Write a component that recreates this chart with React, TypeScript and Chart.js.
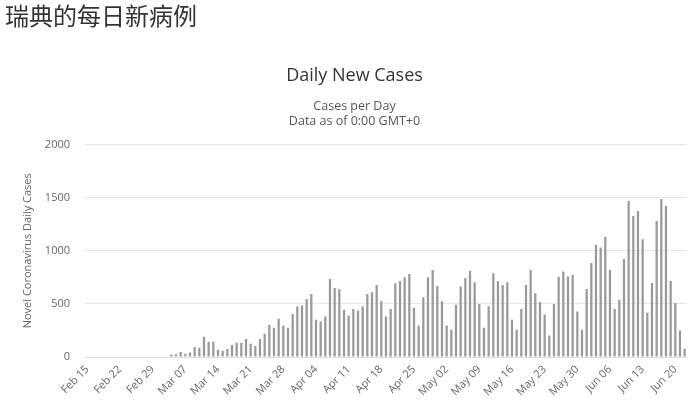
import React, { useEffect, useRef } from "react";
import { Chart, registerables } from "chart.js";

Chart.register(...registerables);

const MONTHS = ["Jan", "Feb", "Mar", "Apr", "May", "Jun", "Jul", "Aug", "Sep", "Oct", "Nov", "Dec"];

// first day shown: Feb 15 2020, 129 daily categories up to Jun 22
const startDate = { year: 2020, month: 1, day: 15 };
const dayCount = 129;

const categories: string[] = (() => {
  const out: string[] = [];
  const d = new Date(Date.UTC(startDate.year, startDate.month, startDate.day));
  for (let i = 0; i < dayCount; i++) {
    out.push(MONTHS[d.getUTCMonth()] + " " + String(d.getUTCDate()).padStart(2, "0"));
    d.setUTCDate(d.getUTCDate() + 1);
  }
  return out;
})();

const tickLabels = [
  "Feb 15", "Feb 22", "Feb 29", "Mar 07", "Mar 14", "Mar 21", "Mar 28",
  "Apr 04", "Apr 11", "Apr 18", "Apr 25", "May 02", "May 09", "May 16",
  "May 23", "May 30", "Jun 06", "Jun 13", "Jun 20",
];

const dailyNewCases = [
  0, 0, 0, 0, 0, 0, 0, 0, 0, 0, 0, 0, 0, 0, 0, 0, 0, 0,
  24, 25, 48, 31, 42, 94, 88, 190, 144, 144, 69, 60, 76, 114, 134, 134, 169, 125, 103, 170, 219,
  303, 275, 359, 297, 275, 406, 475, 484, 547, 594, 350, 334, 381, 734, 650, 638, 444, 391, 453,
  438, 475, 594, 609, 678, 525, 381, 453, 694, 716, 750, 781, 463, 297, 563, 750, 819, 669, 525,
  297, 256, 491, 663, 744, 813, 703, 500, 275,
  478, 788, 713, 678, 703, 350, 256, 453, 678, 819, 600, 519, 400, 203, 500, 756, 806, 759, 772,
  428, 256, 641, 884, 1056, 1031, 1131, 819, 453, 538, 922, 1469, 1328, 1375, 1109, 416, 697,
  1281, 1488, 1422, 716, 509, 250, 78,
];

const yTicks = [0, 500, 1000, 1500, 2000];

const FONT = "'Open Sans', 'Noto Sans', sans-serif";

export default function App() {
  const canvasRef = useRef<HTMLCanvasElement | null>(null);

  useEffect(() => {
    if (!canvasRef.current) return;
    const chart = new Chart(canvasRef.current, {
      type: "bar",
      data: {
        labels: categories,
        datasets: [
          {
            label: "Daily Cases",
            data: dailyNewCases,
            backgroundColor: "#999999",
            borderWidth: 0,
            barPercentage: 0.48,
            categoryPercentage: 1,
          },
        ],
      },
      options: {
        animation: false,
        responsive: false,
        maintainAspectRatio: false,
        layout: { padding: { left: 14, right: 5, top: 0, bottom: 0 } },
        plugins: {
          legend: { display: false },
          tooltip: { enabled: false },
          title: {
            display: true,
            text: "Daily New Cases",
            color: "#333333",
            font: { family: FONT, size: 18, weight: "normal" },
            padding: { top: 65, bottom: 12 },
          },
          subtitle: {
            display: true,
            text: ["Cases per Day", "Data as of 0:00 GMT+0"],
            color: "#555555",
            font: { family: FONT, size: 12.5, weight: "normal", lineHeight: 1.2 },
            padding: { top: 0, bottom: 16 },
          },
        },
        scales: {
          x: {
            grid: { display: false, drawTicks: false },
            border: { display: true, color: "#dddddd" },
            ticks: {
              autoSkip: false,
              minRotation: 45,
              maxRotation: 45,
              padding: 6,
              color: "#666666",
              font: { family: FONT, size: 11 },
              callback: (_v: any, i: number) => {
                const lab = categories[i];
                return tickLabels.includes(lab) && i % 7 === 0 ? lab : "";
              },
            },
            afterFit: (s: any) => {
              s.height = 51;
            },
          },
          y: {
            min: 0,
            max: 2000,
            afterBuildTicks: (s: any) => {
              s.ticks = yTicks.map((v) => ({ value: v }));
            },
            grid: { color: "#e6e6e6", drawTicks: false },
            border: { display: false },
            ticks: {
              padding: 15,
              color: "#666666",
              font: { family: FONT, size: 11 },
              callback: (v: any) => String(v),
            },
            title: {
              display: true,
              text: "Novel Coronavirus Daily Cases",
              color: "#666666",
              font: { family: FONT, size: 11 },
              padding: { top: 7, bottom: 0 },
            },
            afterFit: (s: any) => {
              s.width = 71;
            },
          },
        },
      },
    });
    return () => chart.destroy();
  }, []);

  return (
    <div style={{ position: "absolute", left: 0, top: 0, width: 700, height: 408, background: "#fff" }}>
      <div
        style={{
          position: "absolute",
          left: 5,
          top: 2,
          fontFamily: "'Noto Sans CJK SC', sans-serif",
          fontSize: 24,
          lineHeight: "26px",
          color: "#333333",
          whiteSpace: "nowrap",
        }}
      >
        瑞典的每日新病例
      </div>
      <canvas ref={canvasRef} width={700} height={408} style={{ display: "block", width: 700, height: 408 }} />
    </div>
  );
}
